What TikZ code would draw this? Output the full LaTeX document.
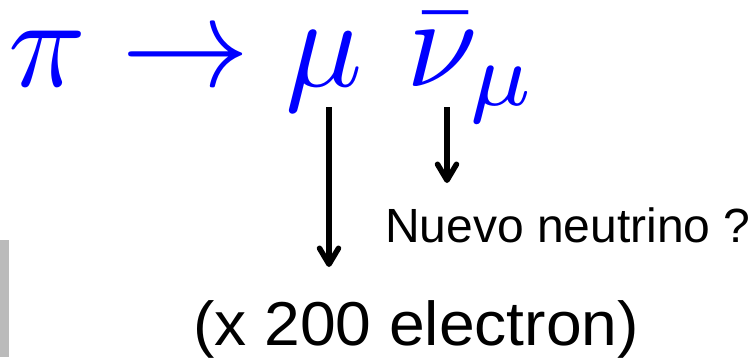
\documentclass[tikz,border=0pt]{standalone}
\usepackage{fontspec}
\newfontfamily\labelfont{Liberation Sans}
\newfontfamily\wideLabelfont[FakeStretch=1.035]{Liberation Sans}
\usetikzlibrary{arrows.meta}
\definecolor{formblue}{RGB}{0,0,255}
\definecolor{bargray}{RGB}{187,187,187}
\tikzset{
  downarrow/.style={line width=5.5pt,-{Straight Barb[length=16pt,width=19pt,round]}},
  formula/.style={inner sep=0pt,anchor=base west,text=formblue},
  label/.style={inner sep=0pt,anchor=base west,text=black}
}
\begin{document}
\begin{tikzpicture}[x=1pt,y=-1pt]
\useasboundingbox (0,0) rectangle (756,357);
\fill[bargray] (0,240) rectangle (9,357);
\node[formula] (eq) at (8,86) {\scalebox{12.85}{$\pi \rightarrow \mu\ \bar{\nu}_{\mu}$}};
\coordinate (muTop) at (329,107);
\coordinate (muEnd) at (329,267);
\coordinate (nuTop) at (447,107);
\coordinate (nuEnd) at (447,183);
\draw[downarrow] (muTop) -- (muEnd);
\draw[downarrow] (nuTop) -- (nuEnd);
\node[label,font=\labelfont\fontsize{48}{48}\selectfont] (nuevo) at (385,242) {Nuevo neutrino ?};
\node[label,font=\wideLabelfont\fontsize{62}{62}\selectfont] (elec) at (193,345) {(x 200 electron)};
\end{tikzpicture}
\end{document}
